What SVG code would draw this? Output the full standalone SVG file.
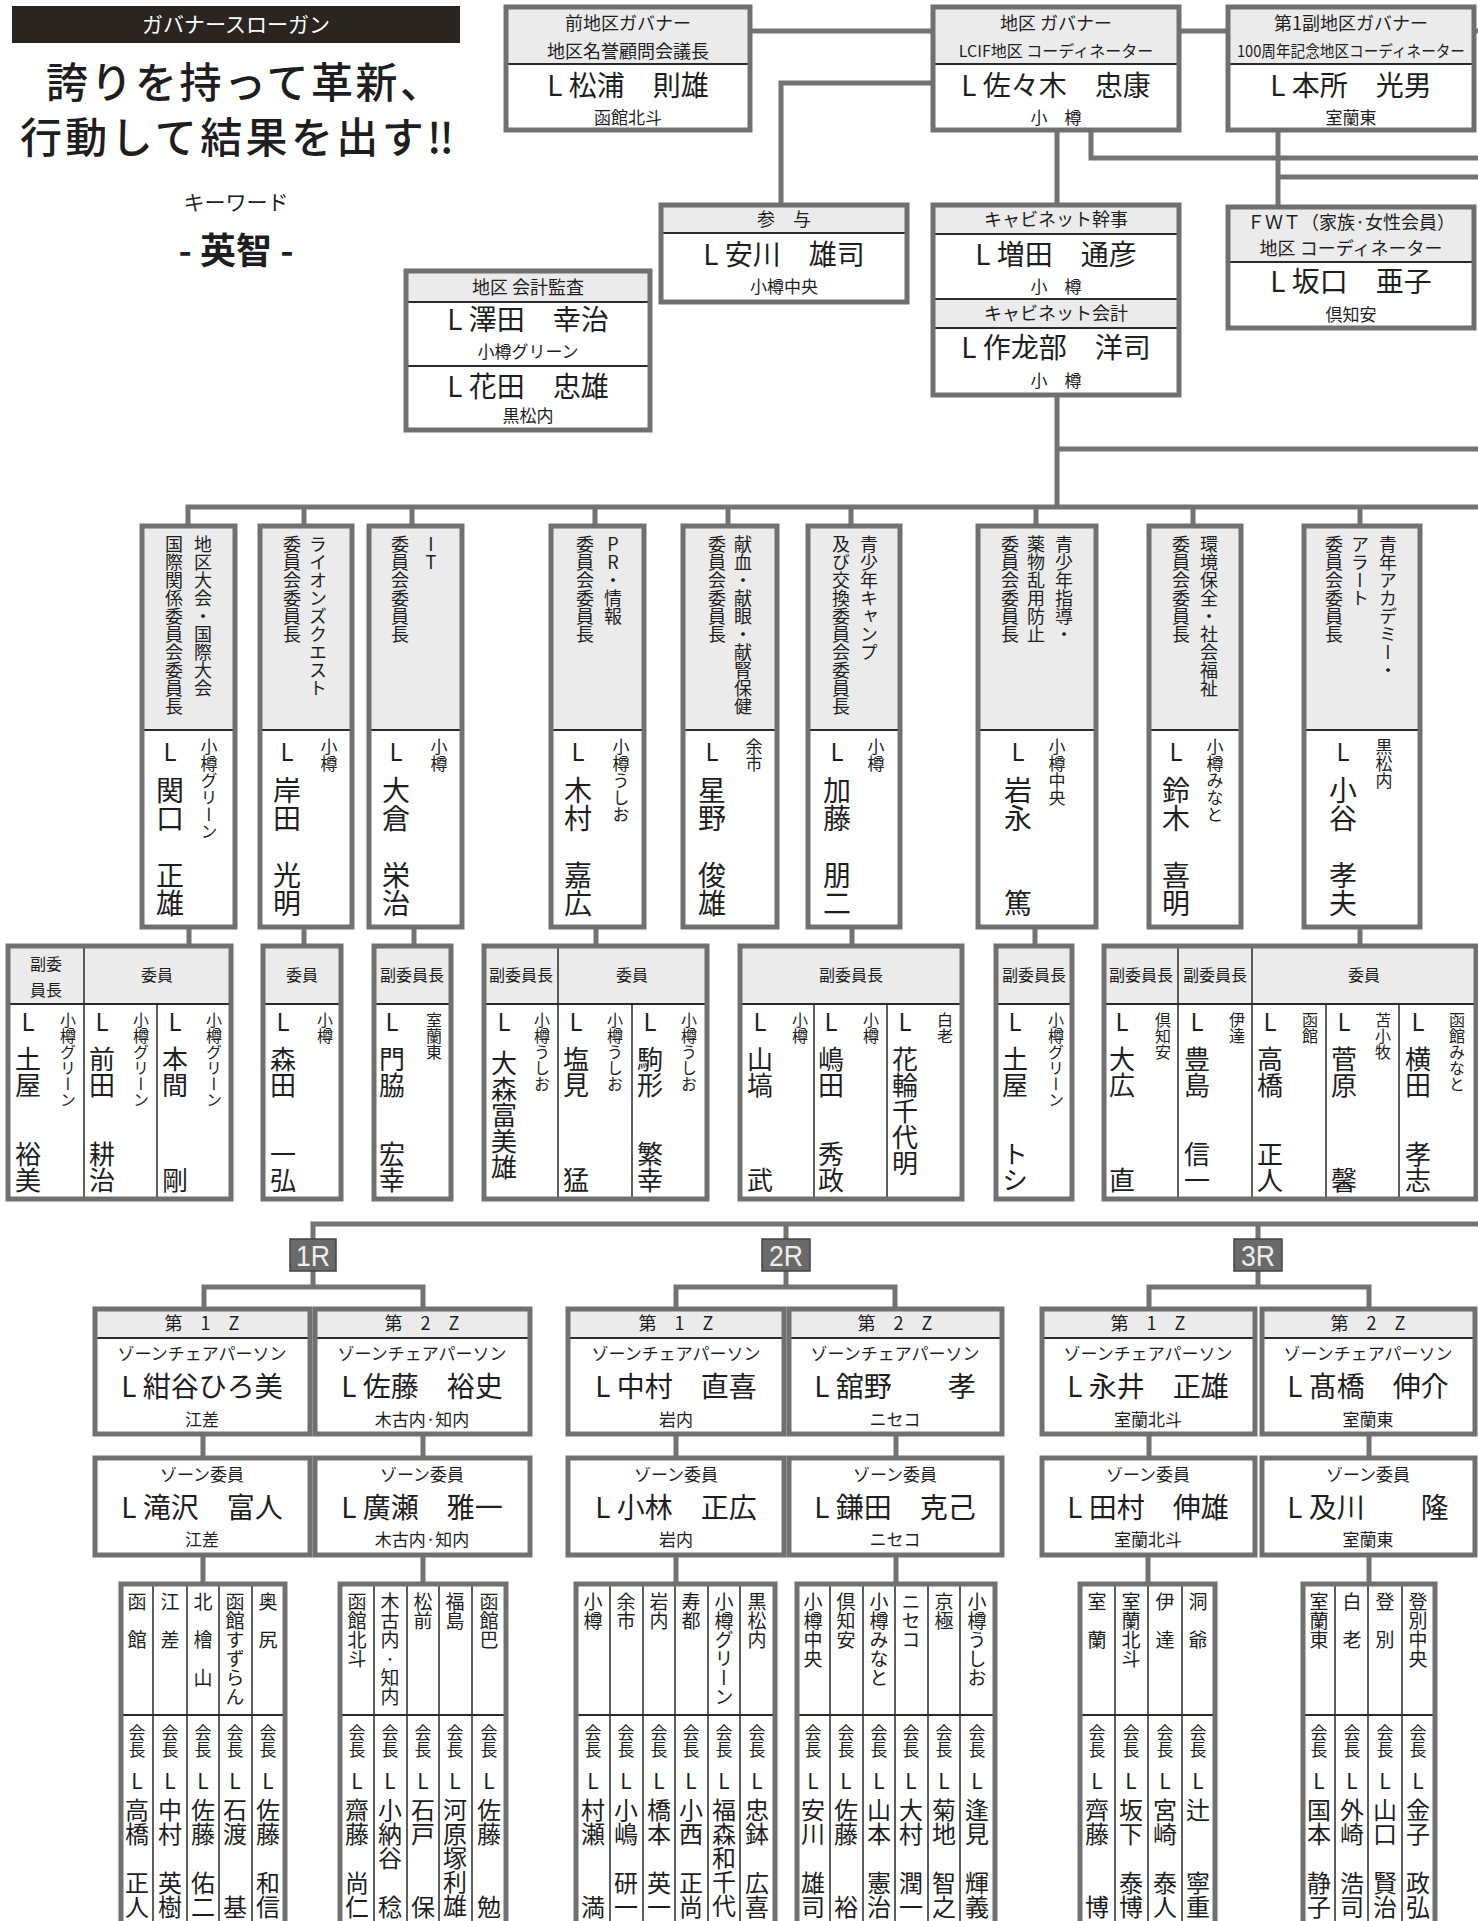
<svg xmlns="http://www.w3.org/2000/svg" width="1478" height="1921" viewBox="0 0 1478 1921">
<style>
.t{font-family:"Noto Sans CJK JP","Noto Sans",sans-serif;fill:#1e1e1e}
.v{writing-mode:vertical-rl;text-orientation:upright}
.m{text-anchor:middle}
.e{text-anchor:end}
.bg{fill:#fff}
.hd{fill:#ebebeb}
.bo{fill:none;stroke:#707070;stroke-width:5}
.sp{stroke:#2a2a2a;stroke-width:2}
.dv{stroke:#2a2a2a;stroke-width:1.5}
.ln{fill:none;stroke:#737373;stroke-width:5}
.rl{fill:#6a6a6a;stroke:#444;stroke-width:1.5}
.rt{font-family:"Liberation Sans",sans-serif;fill:#eee;font-size:30px;text-anchor:middle}
</style>
<rect x="0" y="0" width="1478" height="1921" fill="#fff"/>

<g id="connectors">
<path class="ln" d="M750,31H933M1179,31H1228M1472,31H1480"/>
<path class="ln" d="M933,83H781V205"/>
<path class="ln" d="M1057,130V205M1091,130V158H1480"/>
<path class="ln" d="M1278,130V207M1278,177H1480"/>
<path class="ln" d="M1057,395V507M1057,449H1480"/>
<path class="ln" d="M188,526V507H1480M304,507V526M412,507V526M595,507V526M728,507V526M851,507V526M1036,507V526M1193,507V526M1360,507V526"/>
<path class="ln" d="M189,927V946M304,927V946M414,927V946M596,927V946M852,927V946M1035,927V946M1360,927V946"/>
<path class="ln" d="M313,1239V1224H1480M786,1224V1239M1258,1224V1239"/>
<path class="ln" d="M313,1271V1287M204,1309V1287H423V1309"/>
<path class="ln" d="M786,1271V1287M676,1309V1287H895V1309"/>
<path class="ln" d="M1258,1271V1287M1149,1309V1287H1369V1309"/>
<path class="ln" d="M203,1434V1458M423,1434V1458M676,1434V1458M896,1434V1458M1149,1434V1458M1369,1434V1458"/>
<path class="ln" d="M203,1555V1584M423,1555V1584M676,1555V1584M896,1555V1584M1148,1555V1584M1369,1555V1584"/>
</g>

<g id="slogan">
<rect x="12" y="6" width="448" height="37" fill="#2b2522"/>
<text class="t m" x="236" y="32" font-size="21" style="fill:#fff">ガバナースローガン</text>
<text class="t" x="46" y="98" font-size="42" font-weight="500" textLength="396" lengthAdjust="spacing">誇りを持って革新、</text>
<text class="t" x="20" y="153" font-size="42" font-weight="500" textLength="434" lengthAdjust="spacing">行動して結果を出す‼</text>
<text class="t m" x="236" y="210" font-size="21">キーワード</text>
<text class="t m" x="236" y="264" font-size="36" font-weight="700">- 英智 -</text>
</g>

<g id="past-governor">
<rect class="bg" x="506" y="7" width="244" height="123"/>
<rect class="hd" x="506" y="7" width="244" height="57"/>
<line class="sp" x1="506" y1="64" x2="750" y2="64"/>
<rect class="bo" x="506" y="7" width="244" height="123"/>
<text class="t m" x="628" y="30" font-size="18">前地区ガバナー</text>
<text class="t m" x="628" y="58" font-size="18">地区名誉顧問会議長</text>
<text class="t m" x="628" y="96" font-size="28">L 松浦　則雄</text>
<text class="t m" x="628" y="124" font-size="17">函館北斗</text>
</g>

<g id="governor">
<rect class="bg" x="933" y="7" width="246" height="123"/>
<rect class="hd" x="933" y="7" width="246" height="57"/>
<line class="sp" x1="933" y1="64" x2="1179" y2="64"/>
<rect class="bo" x="933" y="7" width="246" height="123"/>
<text class="t m" x="1056" y="30" font-size="18">地区 ガバナー</text>
<text class="t m" x="1056" y="57" font-size="16">LCIF地区 コーディネーター</text>
<text class="t m" x="1056" y="96" font-size="28">L 佐々木　忠康</text>
<text class="t m" x="1056" y="124" font-size="17">小　樽</text>
</g>

<g id="first-vice-governor">
<rect class="bg" x="1228" y="7" width="246" height="123"/>
<rect class="hd" x="1228" y="7" width="246" height="57"/>
<line class="sp" x1="1228" y1="64" x2="1474" y2="64"/>
<rect class="bo" x="1228" y="7" width="246" height="123"/>
<text class="t m" x="1351" y="30" font-size="18">第1副地区ガバナー</text>
<text class="t m" x="1351" y="57" font-size="16" textLength="228" lengthAdjust="spacingAndGlyphs">100周年記念地区コーディネーター</text>
<text class="t m" x="1351" y="96" font-size="28">L 本所　光男</text>
<text class="t m" x="1351" y="124" font-size="17">室蘭東</text>
</g>

<g id="advisor">
<rect class="bg" x="661" y="205" width="246" height="97"/>
<rect class="hd" x="661" y="205" width="246" height="28"/>
<line class="sp" x1="661" y1="233" x2="907" y2="233"/>
<rect class="bo" x="661" y="205" width="246" height="97"/>
<text class="t m" x="784" y="226" font-size="18">参　与</text>
<text class="t m" x="784" y="265" font-size="28">L 安川　雄司</text>
<text class="t m" x="784" y="293" font-size="17">小樽中央</text>
</g>

<g id="cabinet">
<rect class="bg" x="933" y="205" width="246" height="190"/>
<rect class="hd" x="933" y="205" width="246" height="29"/>
<rect class="hd" x="933" y="299" width="246" height="29"/>
<line class="sp" x1="933" y1="234" x2="1179" y2="234"/>
<line class="sp" x1="933" y1="299" x2="1179" y2="299"/>
<line class="sp" x1="933" y1="328" x2="1179" y2="328"/>
<rect class="bo" x="933" y="205" width="246" height="190"/>
<text class="t m" x="1056" y="226" font-size="18">キャビネット幹事</text>
<text class="t m" x="1056" y="265" font-size="28">L 増田　通彦</text>
<text class="t m" x="1056" y="293" font-size="17">小　樽</text>
<text class="t m" x="1056" y="320" font-size="18">キャビネット会計</text>
<text class="t m" x="1056" y="358" font-size="28">L 作龙部　洋司</text>
<text class="t m" x="1056" y="387" font-size="17">小　樽</text>
</g>

<g id="fwt">
<rect class="bg" x="1228" y="207" width="246" height="121"/>
<rect class="hd" x="1228" y="207" width="246" height="55"/>
<line class="sp" x1="1228" y1="262" x2="1474" y2="262"/>
<rect class="bo" x="1228" y="207" width="246" height="121"/>
<text class="t m" x="1351" y="229" font-size="18">ＦＷＴ（家族·女性会員）</text>
<text class="t m" x="1351" y="255" font-size="18">地区 コーディネーター</text>
<text class="t m" x="1351" y="292" font-size="28">L 坂口　亜子</text>
<text class="t m" x="1351" y="321" font-size="17">倶知安</text>
</g>

<g id="auditors">
<rect class="bg" x="406" y="271" width="244" height="159"/>
<rect class="hd" x="406" y="271" width="244" height="31"/>
<line class="sp" x1="406" y1="302" x2="650" y2="302"/>
<line class="sp" x1="406" y1="366" x2="650" y2="366"/>
<rect class="bo" x="406" y="271" width="244" height="159"/>
<text class="t m" x="528" y="294" font-size="18">地区 会計監査</text>
<text class="t m" x="528" y="330" font-size="28">L 澤田　幸治</text>
<text class="t m" x="528" y="358" font-size="17">小樽グリーン</text>
<text class="t m" x="528" y="397" font-size="28">L 花田　忠雄</text>
<text class="t m" x="528" y="422" font-size="17">黒松内</text>
</g>

<!-- committee chairs -->
<g id="c1">
<rect class="bg" x="142" y="526" width="93" height="401"/>
<rect class="hd" x="142" y="526" width="93" height="204"/>
<line class="sp" x1="142" y1="730" x2="235" y2="730"/>
<rect class="bo" x="142" y="526" width="93" height="401"/>
<text class="t v" x="203" y="535" font-size="18">地区大会・国際大会</text>
<text class="t v" x="174" y="535" font-size="18">国際関係委員会委員長</text>
<text class="t v" x="170" y="740" font-size="24">L</text>
<text class="t v" x="170" y="776" font-size="28">関口</text>
<text class="t v e" x="170" y="917" font-size="28">正雄</text>
<text class="t v" x="209" y="738" font-size="17">小樽グリーン</text>
</g>
<g id="c2">
<rect class="bg" x="260" y="526" width="92" height="401"/>
<rect class="hd" x="260" y="526" width="92" height="204"/>
<line class="sp" x1="260" y1="730" x2="352" y2="730"/>
<rect class="bo" x="260" y="526" width="92" height="401"/>
<text class="t v" x="318" y="535" font-size="18">ライオンズクエスト</text>
<text class="t v" x="292" y="535" font-size="18">委員会委員長</text>
<text class="t v" x="287" y="740" font-size="24">L</text>
<text class="t v" x="287" y="776" font-size="28">岸田</text>
<text class="t v e" x="287" y="917" font-size="28">光明</text>
<text class="t v" x="329" y="738" font-size="17">小樽</text>
</g>
<g id="c3">
<rect class="bg" x="369" y="526" width="93" height="401"/>
<rect class="hd" x="369" y="526" width="93" height="204"/>
<line class="sp" x1="369" y1="730" x2="462" y2="730"/>
<rect class="bo" x="369" y="526" width="93" height="401"/>
<text class="t v" x="431" y="535" font-size="18">IT</text>
<text class="t v" x="400" y="535" font-size="18">委員会委員長</text>
<text class="t v" x="396" y="740" font-size="24">L</text>
<text class="t v" x="396" y="776" font-size="28">大倉</text>
<text class="t v e" x="396" y="917" font-size="28">栄治</text>
<text class="t v" x="439" y="738" font-size="17">小樽</text>
</g>
<g id="c4">
<rect class="bg" x="551" y="526" width="93" height="401"/>
<rect class="hd" x="551" y="526" width="93" height="204"/>
<line class="sp" x1="551" y1="730" x2="644" y2="730"/>
<rect class="bo" x="551" y="526" width="93" height="401"/>
<text class="t v" x="613" y="535" font-size="18">PR・情報</text>
<text class="t v" x="585" y="535" font-size="18">委員会委員長</text>
<text class="t v" x="578" y="740" font-size="24">L</text>
<text class="t v" x="578" y="776" font-size="28">木村</text>
<text class="t v e" x="578" y="917" font-size="28">嘉広</text>
<text class="t v" x="621" y="738" font-size="17">小樽うしお</text>
</g>
<g id="c5">
<rect class="bg" x="683" y="526" width="94" height="401"/>
<rect class="hd" x="683" y="526" width="94" height="204"/>
<line class="sp" x1="683" y1="730" x2="777" y2="730"/>
<rect class="bo" x="683" y="526" width="94" height="401"/>
<text class="t v" x="743" y="535" font-size="18">献血・献眼・献腎保健</text>
<text class="t v" x="717" y="535" font-size="18">委員会委員長</text>
<text class="t v" x="712" y="740" font-size="24">L</text>
<text class="t v" x="712" y="776" font-size="28">星野</text>
<text class="t v e" x="712" y="917" font-size="28">俊雄</text>
<text class="t v" x="754" y="738" font-size="17">余市</text>
</g>
<g id="c6">
<rect class="bg" x="808" y="526" width="92" height="401"/>
<rect class="hd" x="808" y="526" width="92" height="204"/>
<line class="sp" x1="808" y1="730" x2="900" y2="730"/>
<rect class="bo" x="808" y="526" width="92" height="401"/>
<text class="t v" x="869" y="535" font-size="18">青少年キャンプ</text>
<text class="t v" x="841" y="535" font-size="18">及び交換委員会委員長</text>
<text class="t v" x="837" y="740" font-size="24">L</text>
<text class="t v" x="837" y="776" font-size="28">加藤</text>
<text class="t v e" x="837" y="917" font-size="28">朋二</text>
<text class="t v" x="876" y="738" font-size="17">小樽</text>
</g>
<g id="c7">
<rect class="bg" x="978" y="526" width="118" height="401"/>
<rect class="hd" x="978" y="526" width="118" height="204"/>
<line class="sp" x1="978" y1="730" x2="1096" y2="730"/>
<rect class="bo" x="978" y="526" width="118" height="401"/>
<text class="t v" x="1064" y="535" font-size="18">青少年指導・</text>
<text class="t v" x="1036" y="535" font-size="18">薬物乱用防止</text>
<text class="t v" x="1010" y="535" font-size="18">委員会委員長</text>
<text class="t v" x="1018" y="740" font-size="24">L</text>
<text class="t v" x="1018" y="776" font-size="28">岩永</text>
<text class="t v e" x="1018" y="917" font-size="28">篤</text>
<text class="t v" x="1057" y="738" font-size="17">小樽中央</text>
</g>
<g id="c8">
<rect class="bg" x="1149" y="526" width="92" height="401"/>
<rect class="hd" x="1149" y="526" width="92" height="204"/>
<line class="sp" x1="1149" y1="730" x2="1241" y2="730"/>
<rect class="bo" x="1149" y="526" width="92" height="401"/>
<text class="t v" x="1209" y="535" font-size="18">環境保全・社会福祉</text>
<text class="t v" x="1181" y="535" font-size="18">委員会委員長</text>
<text class="t v" x="1176" y="740" font-size="24">L</text>
<text class="t v" x="1176" y="776" font-size="28">鈴木</text>
<text class="t v e" x="1176" y="917" font-size="28">喜明</text>
<text class="t v" x="1215" y="738" font-size="17">小樽みなと</text>
</g>
<g id="c9">
<rect class="bg" x="1304" y="526" width="116" height="401"/>
<rect class="hd" x="1304" y="526" width="116" height="204"/>
<line class="sp" x1="1304" y1="730" x2="1420" y2="730"/>
<rect class="bo" x="1304" y="526" width="116" height="401"/>
<text class="t v" x="1388" y="535" font-size="18">青年アカデミー・</text>
<text class="t v" x="1360" y="535" font-size="18">アラート</text>
<text class="t v" x="1334" y="535" font-size="18">委員会委員長</text>
<text class="t v" x="1343" y="740" font-size="24">L</text>
<text class="t v" x="1343" y="776" font-size="28">小谷</text>
<text class="t v e" x="1343" y="917" font-size="28">孝夫</text>
<text class="t v" x="1384" y="738" font-size="17">黒松内</text>
</g>

<!-- sub committees -->
<g id="s1">
<rect class="bg" x="8" y="946" width="223" height="253"/>
<rect class="hd" x="8" y="946" width="223" height="58"/>
<line class="sp" x1="8" y1="1004" x2="231" y2="1004"/>
<line class="dv" x1="84" y1="946" x2="84" y2="1199"/>
<line class="dv" x1="157" y1="1004" x2="157" y2="1199"/>
<rect class="bo" x="8" y="946" width="223" height="253"/>
<text class="t m" x="46" y="970" font-size="16">副委</text>
<text class="t m" x="46" y="996" font-size="16">員長</text>
<text class="t m" x="157" y="981" font-size="16">委員</text>
<text class="t v" x="28" y="1010" font-size="24">L</text>
<text class="t v" x="28" y="1046" font-size="26">土屋</text>
<text class="t v e" x="28" y="1193" font-size="26">裕美</text>
<text class="t v" x="68" y="1012" font-size="16">小樽グリーン</text>
<text class="t v" x="102" y="1010" font-size="24">L</text>
<text class="t v" x="102" y="1046" font-size="26">前田</text>
<text class="t v e" x="102" y="1193" font-size="26">耕治</text>
<text class="t v" x="141" y="1012" font-size="16">小樽グリーン</text>
<text class="t v" x="175" y="1010" font-size="24">L</text>
<text class="t v" x="175" y="1046" font-size="26">本間</text>
<text class="t v e" x="175" y="1193" font-size="26">剛</text>
<text class="t v" x="214" y="1012" font-size="16">小樽グリーン</text>
</g>
<g id="s2">
<rect class="bg" x="263" y="946" width="78" height="253"/>
<rect class="hd" x="263" y="946" width="78" height="58"/>
<line class="sp" x1="263" y1="1004" x2="341" y2="1004"/>
<rect class="bo" x="263" y="946" width="78" height="253"/>
<text class="t m" x="302" y="981" font-size="16">委員</text>
<text class="t v" x="283" y="1010" font-size="24">L</text>
<text class="t v" x="283" y="1046" font-size="26">森田</text>
<text class="t v e" x="283" y="1193" font-size="26">一弘</text>
<text class="t v" x="325" y="1012" font-size="16">小樽</text>
</g>
<g id="s3">
<rect class="bg" x="374" y="946" width="77" height="253"/>
<rect class="hd" x="374" y="946" width="77" height="58"/>
<line class="sp" x1="374" y1="1004" x2="451" y2="1004"/>
<rect class="bo" x="374" y="946" width="77" height="253"/>
<text class="t m" x="412" y="981" font-size="16">副委員長</text>
<text class="t v" x="392" y="1010" font-size="24">L</text>
<text class="t v" x="392" y="1046" font-size="26">門脇</text>
<text class="t v e" x="392" y="1193" font-size="26">宏幸</text>
<text class="t v" x="434" y="1012" font-size="16">室蘭東</text>
</g>
<g id="s4">
<rect class="bg" x="484" y="946" width="223" height="253"/>
<rect class="hd" x="484" y="946" width="223" height="58"/>
<line class="sp" x1="484" y1="1004" x2="707" y2="1004"/>
<line class="dv" x1="558" y1="946" x2="558" y2="1199"/>
<line class="dv" x1="632" y1="1004" x2="632" y2="1199"/>
<rect class="bo" x="484" y="946" width="223" height="253"/>
<text class="t m" x="521" y="981" font-size="16">副委員長</text>
<text class="t m" x="632" y="981" font-size="16">委員</text>
<text class="t v" x="504" y="1010" font-size="24">L</text>
<text class="t v" x="504" y="1050" font-size="26">大森富美雄</text>
<text class="t v" x="542" y="1012" font-size="16">小樽うしお</text>
<text class="t v" x="576" y="1010" font-size="24">L</text>
<text class="t v" x="576" y="1046" font-size="26">塩見</text>
<text class="t v e" x="576" y="1193" font-size="26">猛</text>
<text class="t v" x="615" y="1012" font-size="16">小樽うしお</text>
<text class="t v" x="650" y="1010" font-size="24">L</text>
<text class="t v" x="650" y="1046" font-size="26">駒形</text>
<text class="t v e" x="650" y="1193" font-size="26">繁幸</text>
<text class="t v" x="689" y="1012" font-size="16">小樽うしお</text>
</g>
<g id="s5">
<rect class="bg" x="740" y="946" width="222" height="253"/>
<rect class="hd" x="740" y="946" width="222" height="58"/>
<line class="sp" x1="740" y1="1004" x2="962" y2="1004"/>
<line class="dv" x1="814" y1="1004" x2="814" y2="1199"/>
<line class="dv" x1="887" y1="1004" x2="887" y2="1199"/>
<rect class="bo" x="740" y="946" width="222" height="253"/>
<text class="t m" x="851" y="981" font-size="16">副委員長</text>
<text class="t v" x="760" y="1010" font-size="24">L</text>
<text class="t v" x="760" y="1046" font-size="26">山塙</text>
<text class="t v e" x="760" y="1193" font-size="26">武</text>
<text class="t v" x="800" y="1012" font-size="16">小樽</text>
<text class="t v" x="831" y="1010" font-size="24">L</text>
<text class="t v" x="831" y="1046" font-size="26">嶋田</text>
<text class="t v e" x="831" y="1193" font-size="26">秀政</text>
<text class="t v" x="871" y="1012" font-size="16">小樽</text>
<text class="t v" x="905" y="1010" font-size="24">L</text>
<text class="t v" x="905" y="1046" font-size="26">花輪千代明</text>
<text class="t v" x="945" y="1012" font-size="16">白老</text>
</g>
<g id="s6">
<rect class="bg" x="996" y="946" width="76" height="253"/>
<rect class="hd" x="996" y="946" width="76" height="58"/>
<line class="sp" x1="996" y1="1004" x2="1072" y2="1004"/>
<rect class="bo" x="996" y="946" width="76" height="253"/>
<text class="t m" x="1034" y="981" font-size="16">副委員長</text>
<text class="t v" x="1015" y="1010" font-size="24">L</text>
<text class="t v" x="1015" y="1046" font-size="26">土屋</text>
<text class="t v e" x="1015" y="1193" font-size="26">トシ</text>
<text class="t v" x="1056" y="1012" font-size="16">小樽グリーン</text>
</g>
<g id="s7">
<rect class="bg" x="1104" y="946" width="372" height="253"/>
<rect class="hd" x="1104" y="946" width="372" height="58"/>
<line class="sp" x1="1104" y1="1004" x2="1476" y2="1004"/>
<line class="dv" x1="1178" y1="946" x2="1178" y2="1199"/>
<line class="dv" x1="1252" y1="946" x2="1252" y2="1199"/>
<line class="dv" x1="1326" y1="1004" x2="1326" y2="1199"/>
<line class="dv" x1="1399" y1="1004" x2="1399" y2="1199"/>
<rect class="bo" x="1104" y="946" width="372" height="253"/>
<text class="t m" x="1141" y="981" font-size="16">副委員長</text>
<text class="t m" x="1215" y="981" font-size="16">副委員長</text>
<text class="t m" x="1364" y="981" font-size="16">委員</text>
<text class="t v" x="1122" y="1010" font-size="24">L</text>
<text class="t v" x="1122" y="1046" font-size="26">大広</text>
<text class="t v e" x="1122" y="1193" font-size="26">直</text>
<text class="t v" x="1163" y="1012" font-size="16">倶知安</text>
<text class="t v" x="1197" y="1010" font-size="24">L</text>
<text class="t v" x="1197" y="1046" font-size="26">豊島</text>
<text class="t v e" x="1197" y="1193" font-size="26">信一</text>
<text class="t v" x="1237" y="1012" font-size="16">伊達</text>
<text class="t v" x="1270" y="1010" font-size="24">L</text>
<text class="t v" x="1270" y="1046" font-size="26">高橋</text>
<text class="t v e" x="1270" y="1193" font-size="26">正人</text>
<text class="t v" x="1310" y="1012" font-size="16">函館</text>
<text class="t v" x="1344" y="1010" font-size="24">L</text>
<text class="t v" x="1344" y="1046" font-size="26">菅原</text>
<text class="t v e" x="1344" y="1193" font-size="26">馨</text>
<text class="t v" x="1383" y="1012" font-size="16">苫小牧</text>
<text class="t v" x="1418" y="1010" font-size="24">L</text>
<text class="t v" x="1418" y="1046" font-size="26">横田</text>
<text class="t v e" x="1418" y="1193" font-size="26">孝志</text>
<text class="t v" x="1457" y="1012" font-size="16">函館みなと</text>
</g>

<!-- regions -->
<g id="r1"><rect class="rl" x="290" y="1239" width="46" height="32"/><text class="rt" x="313" y="1266" textLength="34" lengthAdjust="spacingAndGlyphs">1R</text></g>
<g id="r2"><rect class="rl" x="762" y="1239" width="48" height="32"/><text class="rt" x="786" y="1266" textLength="34" lengthAdjust="spacingAndGlyphs">2R</text></g>
<g id="r3"><rect class="rl" x="1234" y="1239" width="48" height="32"/><text class="rt" x="1258" y="1266" textLength="34" lengthAdjust="spacingAndGlyphs">3R</text></g>

<!-- zone chairpersons -->
<g id="z1">
<rect class="bg" x="95" y="1309" width="215" height="125"/>
<rect class="hd" x="95" y="1309" width="215" height="29"/>
<line class="sp" x1="95" y1="1338" x2="310" y2="1338"/>
<rect class="bo" x="95" y="1309" width="215" height="125"/>
<text class="t m" x="202" y="1330" font-size="18">第　1　Z</text>
<text class="t m" x="202" y="1360" font-size="17">ゾーンチェアパーソン</text>
<text class="t m" x="202" y="1397" font-size="28">L 紺谷ひろ美</text>
<text class="t m" x="202" y="1426" font-size="17">江差</text>
</g>
<g id="z2">
<rect class="bg" x="315" y="1309" width="215" height="125"/>
<rect class="hd" x="315" y="1309" width="215" height="29"/>
<line class="sp" x1="315" y1="1338" x2="530" y2="1338"/>
<rect class="bo" x="315" y="1309" width="215" height="125"/>
<text class="t m" x="422" y="1330" font-size="18">第　2　Z</text>
<text class="t m" x="422" y="1360" font-size="17">ゾーンチェアパーソン</text>
<text class="t m" x="422" y="1397" font-size="28">L 佐藤　裕史</text>
<text class="t m" x="422" y="1426" font-size="17">木古内·知内</text>
</g>
<g id="z3">
<rect class="bg" x="568" y="1309" width="216" height="125"/>
<rect class="hd" x="568" y="1309" width="216" height="29"/>
<line class="sp" x1="568" y1="1338" x2="784" y2="1338"/>
<rect class="bo" x="568" y="1309" width="216" height="125"/>
<text class="t m" x="676" y="1330" font-size="18">第　1　Z</text>
<text class="t m" x="676" y="1360" font-size="17">ゾーンチェアパーソン</text>
<text class="t m" x="676" y="1397" font-size="28">L 中村　直喜</text>
<text class="t m" x="676" y="1426" font-size="17">岩内</text>
</g>
<g id="z4">
<rect class="bg" x="789" y="1309" width="213" height="125"/>
<rect class="hd" x="789" y="1309" width="213" height="29"/>
<line class="sp" x1="789" y1="1338" x2="1002" y2="1338"/>
<rect class="bo" x="789" y="1309" width="213" height="125"/>
<text class="t m" x="895" y="1330" font-size="18">第　2　Z</text>
<text class="t m" x="895" y="1360" font-size="17">ゾーンチェアパーソン</text>
<text class="t m" x="895" y="1397" font-size="28">L 舘野　　孝</text>
<text class="t m" x="895" y="1426" font-size="17">ニセコ</text>
</g>
<g id="z5">
<rect class="bg" x="1042" y="1309" width="213" height="125"/>
<rect class="hd" x="1042" y="1309" width="213" height="29"/>
<line class="sp" x1="1042" y1="1338" x2="1255" y2="1338"/>
<rect class="bo" x="1042" y="1309" width="213" height="125"/>
<text class="t m" x="1148" y="1330" font-size="18">第　1　Z</text>
<text class="t m" x="1148" y="1360" font-size="17">ゾーンチェアパーソン</text>
<text class="t m" x="1148" y="1397" font-size="28">L 永井　正雄</text>
<text class="t m" x="1148" y="1426" font-size="17">室蘭北斗</text>
</g>
<g id="z6">
<rect class="bg" x="1262" y="1309" width="213" height="125"/>
<rect class="hd" x="1262" y="1309" width="213" height="29"/>
<line class="sp" x1="1262" y1="1338" x2="1475" y2="1338"/>
<rect class="bo" x="1262" y="1309" width="213" height="125"/>
<text class="t m" x="1368" y="1330" font-size="18">第　2　Z</text>
<text class="t m" x="1368" y="1360" font-size="17">ゾーンチェアパーソン</text>
<text class="t m" x="1368" y="1397" font-size="28">L 髙橋　伸介</text>
<text class="t m" x="1368" y="1426" font-size="17">室蘭東</text>
</g>

<!-- zone members -->
<g id="zm1"><rect class="bg" x="95" y="1458" width="215" height="97"/><rect class="bo" x="95" y="1458" width="215" height="97"/>
<text class="t m" x="202" y="1481" font-size="17">ゾーン委員</text><text class="t m" x="202" y="1518" font-size="28">L 滝沢　富人</text><text class="t m" x="202" y="1546" font-size="17">江差</text></g>
<g id="zm2"><rect class="bg" x="315" y="1458" width="215" height="97"/><rect class="bo" x="315" y="1458" width="215" height="97"/>
<text class="t m" x="422" y="1481" font-size="17">ゾーン委員</text><text class="t m" x="422" y="1518" font-size="28">L 廣瀬　雅一</text><text class="t m" x="422" y="1546" font-size="17">木古内·知内</text></g>
<g id="zm3"><rect class="bg" x="568" y="1458" width="216" height="97"/><rect class="bo" x="568" y="1458" width="216" height="97"/>
<text class="t m" x="676" y="1481" font-size="17">ゾーン委員</text><text class="t m" x="676" y="1518" font-size="28">L 小林　正広</text><text class="t m" x="676" y="1546" font-size="17">岩内</text></g>
<g id="zm4"><rect class="bg" x="789" y="1458" width="213" height="97"/><rect class="bo" x="789" y="1458" width="213" height="97"/>
<text class="t m" x="895" y="1481" font-size="17">ゾーン委員</text><text class="t m" x="895" y="1518" font-size="28">L 鎌田　克己</text><text class="t m" x="895" y="1546" font-size="17">ニセコ</text></g>
<g id="zm5"><rect class="bg" x="1042" y="1458" width="213" height="97"/><rect class="bo" x="1042" y="1458" width="213" height="97"/>
<text class="t m" x="1148" y="1481" font-size="17">ゾーン委員</text><text class="t m" x="1148" y="1518" font-size="28">L 田村　伸雄</text><text class="t m" x="1148" y="1546" font-size="17">室蘭北斗</text></g>
<g id="zm6"><rect class="bg" x="1262" y="1458" width="213" height="97"/><rect class="bo" x="1262" y="1458" width="213" height="97"/>
<text class="t m" x="1368" y="1481" font-size="17">ゾーン委員</text><text class="t m" x="1368" y="1518" font-size="28">L 及川　　隆</text><text class="t m" x="1368" y="1546" font-size="17">室蘭東</text></g>

<!-- clubs -->
<g id="clubs-1r1z">
<rect class="bg" x="121" y="1584" width="164" height="350"/>
<line class="sp" x1="121" y1="1715" x2="285" y2="1715"/>
<path class="dv" d="M153,1584V1935M187,1584V1935M219,1584V1935M252,1584V1935"/>
<rect class="bo" x="121" y="1584" width="164" height="350"/>
<text class="t v" x="137" y="1592" font-size="19">函　館</text>
<text class="t v" x="170" y="1592" font-size="19">江　差</text>
<text class="t v" x="203" y="1592" font-size="19">北　檜　山</text>
<text class="t v" x="235" y="1592" font-size="19">函館すずらん</text>
<text class="t v" x="268" y="1592" font-size="19">奥　尻</text>
<text class="t v" x="137" y="1724" font-size="17">会長</text><text class="t v" x="137" y="1771" font-size="21">L</text><text class="t v" x="137" y="1798" font-size="24">高橋</text><text class="t v e" x="137" y="1919" font-size="24">正人</text>
<text class="t v" x="170" y="1724" font-size="17">会長</text><text class="t v" x="170" y="1771" font-size="21">L</text><text class="t v" x="170" y="1798" font-size="24">中村</text><text class="t v e" x="170" y="1919" font-size="24">英樹</text>
<text class="t v" x="203" y="1724" font-size="17">会長</text><text class="t v" x="203" y="1771" font-size="21">L</text><text class="t v" x="203" y="1798" font-size="24">佐藤</text><text class="t v e" x="203" y="1919" font-size="24">佑二</text>
<text class="t v" x="235" y="1724" font-size="17">会長</text><text class="t v" x="235" y="1771" font-size="21">L</text><text class="t v" x="235" y="1798" font-size="24">石渡</text><text class="t v e" x="235" y="1919" font-size="24">基</text>
<text class="t v" x="268" y="1724" font-size="17">会長</text><text class="t v" x="268" y="1771" font-size="21">L</text><text class="t v" x="268" y="1798" font-size="24">佐藤</text><text class="t v e" x="268" y="1919" font-size="24">和信</text>
</g>
<g id="clubs-1r2z">
<rect class="bg" x="340" y="1584" width="166" height="350"/>
<line class="sp" x1="340" y1="1715" x2="506" y2="1715"/>
<path class="dv" d="M374,1584V1935M407,1584V1935M439,1584V1935M472,1584V1935"/>
<rect class="bo" x="340" y="1584" width="166" height="350"/>
<text class="t v" x="357" y="1592" font-size="19">函館北斗</text>
<text class="t v" x="390" y="1592" font-size="19">木古内·知内</text>
<text class="t v" x="423" y="1592" font-size="19">松前</text>
<text class="t v" x="455" y="1592" font-size="19">福島</text>
<text class="t v" x="489" y="1592" font-size="19">函館巴</text>
<text class="t v" x="357" y="1724" font-size="17">会長</text><text class="t v" x="357" y="1771" font-size="21">L</text><text class="t v" x="357" y="1798" font-size="24">齋藤</text><text class="t v e" x="357" y="1919" font-size="24">尚仁</text>
<text class="t v" x="390" y="1724" font-size="17">会長</text><text class="t v" x="390" y="1771" font-size="21">L</text><text class="t v" x="390" y="1798" font-size="24">小納谷</text><text class="t v e" x="390" y="1919" font-size="24">稔</text>
<text class="t v" x="423" y="1724" font-size="17">会長</text><text class="t v" x="423" y="1771" font-size="21">L</text><text class="t v" x="423" y="1798" font-size="24">石戸</text><text class="t v e" x="423" y="1919" font-size="24">保</text>
<text class="t v" x="455" y="1724" font-size="17">会長</text><text class="t v" x="455" y="1771" font-size="21">L</text><text class="t v" x="455" y="1798" font-size="24">河原塚利雄</text>
<text class="t v" x="489" y="1724" font-size="17">会長</text><text class="t v" x="489" y="1771" font-size="21">L</text><text class="t v" x="489" y="1798" font-size="24">佐藤</text><text class="t v e" x="489" y="1919" font-size="24">勉</text>
</g>
<g id="clubs-2r1z">
<rect class="bg" x="576" y="1584" width="199" height="350"/>
<line class="sp" x1="576" y1="1715" x2="775" y2="1715"/>
<path class="dv" d="M610,1584V1935M643,1584V1935M675,1584V1935M708,1584V1935M740,1584V1935"/>
<rect class="bo" x="576" y="1584" width="199" height="350"/>
<text class="t v" x="593" y="1592" font-size="19">小樽</text>
<text class="t v" x="626" y="1592" font-size="19">余市</text>
<text class="t v" x="659" y="1592" font-size="19">岩内</text>
<text class="t v" x="691" y="1592" font-size="19">寿都</text>
<text class="t v" x="724" y="1592" font-size="19">小樽グリーン</text>
<text class="t v" x="757" y="1592" font-size="19">黒松内</text>
<text class="t v" x="593" y="1724" font-size="17">会長</text><text class="t v" x="593" y="1771" font-size="21">L</text><text class="t v" x="593" y="1798" font-size="24">村瀬</text><text class="t v e" x="593" y="1919" font-size="24">満</text>
<text class="t v" x="626" y="1724" font-size="17">会長</text><text class="t v" x="626" y="1771" font-size="21">L</text><text class="t v" x="626" y="1798" font-size="24">小嶋</text><text class="t v e" x="626" y="1919" font-size="24">研一</text>
<text class="t v" x="659" y="1724" font-size="17">会長</text><text class="t v" x="659" y="1771" font-size="21">L</text><text class="t v" x="659" y="1798" font-size="24">橋本</text><text class="t v e" x="659" y="1919" font-size="24">英一</text>
<text class="t v" x="691" y="1724" font-size="17">会長</text><text class="t v" x="691" y="1771" font-size="21">L</text><text class="t v" x="691" y="1798" font-size="24">小西</text><text class="t v e" x="691" y="1919" font-size="24">正尚</text>
<text class="t v" x="724" y="1724" font-size="17">会長</text><text class="t v" x="724" y="1771" font-size="21">L</text><text class="t v" x="724" y="1798" font-size="24">福森和千代</text>
<text class="t v" x="757" y="1724" font-size="17">会長</text><text class="t v" x="757" y="1771" font-size="21">L</text><text class="t v" x="757" y="1798" font-size="24">忠鉢</text><text class="t v e" x="757" y="1919" font-size="24">広喜</text>
</g>
<g id="clubs-2r2z">
<rect class="bg" x="797" y="1584" width="198" height="350"/>
<line class="sp" x1="797" y1="1715" x2="995" y2="1715"/>
<path class="dv" d="M830,1584V1935M863,1584V1935M895,1584V1935M928,1584V1935M960,1584V1935"/>
<rect class="bo" x="797" y="1584" width="198" height="350"/>
<text class="t v" x="813" y="1592" font-size="19">小樽中央</text>
<text class="t v" x="846" y="1592" font-size="19">倶知安</text>
<text class="t v" x="879" y="1592" font-size="19">小樽みなと</text>
<text class="t v" x="911" y="1592" font-size="19">ニセコ</text>
<text class="t v" x="944" y="1592" font-size="19">京極</text>
<text class="t v" x="977" y="1592" font-size="19">小樽うしお</text>
<text class="t v" x="813" y="1724" font-size="17">会長</text><text class="t v" x="813" y="1771" font-size="21">L</text><text class="t v" x="813" y="1798" font-size="24">安川</text><text class="t v e" x="813" y="1919" font-size="24">雄司</text>
<text class="t v" x="846" y="1724" font-size="17">会長</text><text class="t v" x="846" y="1771" font-size="21">L</text><text class="t v" x="846" y="1798" font-size="24">佐藤</text><text class="t v e" x="846" y="1919" font-size="24">裕</text>
<text class="t v" x="879" y="1724" font-size="17">会長</text><text class="t v" x="879" y="1771" font-size="21">L</text><text class="t v" x="879" y="1798" font-size="24">山本</text><text class="t v e" x="879" y="1919" font-size="24">憲治</text>
<text class="t v" x="911" y="1724" font-size="17">会長</text><text class="t v" x="911" y="1771" font-size="21">L</text><text class="t v" x="911" y="1798" font-size="24">大村</text><text class="t v e" x="911" y="1919" font-size="24">潤一</text>
<text class="t v" x="944" y="1724" font-size="17">会長</text><text class="t v" x="944" y="1771" font-size="21">L</text><text class="t v" x="944" y="1798" font-size="24">菊地</text><text class="t v e" x="944" y="1919" font-size="24">智之</text>
<text class="t v" x="977" y="1724" font-size="17">会長</text><text class="t v" x="977" y="1771" font-size="21">L</text><text class="t v" x="977" y="1798" font-size="24">逢見</text><text class="t v e" x="977" y="1919" font-size="24">輝義</text>
</g>
<g id="clubs-3r1z">
<rect class="bg" x="1080" y="1584" width="135" height="350"/>
<line class="sp" x1="1080" y1="1715" x2="1215" y2="1715"/>
<path class="dv" d="M1115,1584V1935M1148,1584V1935M1182,1584V1935"/>
<rect class="bo" x="1080" y="1584" width="135" height="350"/>
<text class="t v" x="1097" y="1592" font-size="19">室　蘭</text>
<text class="t v" x="1131" y="1592" font-size="19">室蘭北斗</text>
<text class="t v" x="1165" y="1592" font-size="19">伊　達</text>
<text class="t v" x="1198" y="1592" font-size="19">洞　爺</text>
<text class="t v" x="1097" y="1724" font-size="17">会長</text><text class="t v" x="1097" y="1771" font-size="21">L</text><text class="t v" x="1097" y="1798" font-size="24">齊藤</text><text class="t v e" x="1097" y="1919" font-size="24">博</text>
<text class="t v" x="1131" y="1724" font-size="17">会長</text><text class="t v" x="1131" y="1771" font-size="21">L</text><text class="t v" x="1131" y="1798" font-size="24">坂下</text><text class="t v e" x="1131" y="1919" font-size="24">泰博</text>
<text class="t v" x="1165" y="1724" font-size="17">会長</text><text class="t v" x="1165" y="1771" font-size="21">L</text><text class="t v" x="1165" y="1798" font-size="24">宮崎</text><text class="t v e" x="1165" y="1919" font-size="24">泰人</text>
<text class="t v" x="1198" y="1724" font-size="17">会長</text><text class="t v" x="1198" y="1771" font-size="21">L</text><text class="t v" x="1198" y="1798" font-size="24">辻</text><text class="t v e" x="1198" y="1919" font-size="24">寧重</text>
</g>
<g id="clubs-3r2z">
<rect class="bg" x="1303" y="1584" width="132" height="350"/>
<line class="sp" x1="1303" y1="1715" x2="1435" y2="1715"/>
<path class="dv" d="M1335,1584V1935M1368,1584V1935M1402,1584V1935"/>
<rect class="bo" x="1303" y="1584" width="132" height="350"/>
<text class="t v" x="1319" y="1592" font-size="19">室蘭東</text>
<text class="t v" x="1352" y="1592" font-size="19">白　老</text>
<text class="t v" x="1385" y="1592" font-size="19">登　別</text>
<text class="t v" x="1418" y="1592" font-size="19">登別中央</text>
<text class="t v" x="1319" y="1724" font-size="17">会長</text><text class="t v" x="1319" y="1771" font-size="21">L</text><text class="t v" x="1319" y="1798" font-size="24">国本</text><text class="t v e" x="1319" y="1919" font-size="24">静子</text>
<text class="t v" x="1352" y="1724" font-size="17">会長</text><text class="t v" x="1352" y="1771" font-size="21">L</text><text class="t v" x="1352" y="1798" font-size="24">外崎</text><text class="t v e" x="1352" y="1919" font-size="24">浩司</text>
<text class="t v" x="1385" y="1724" font-size="17">会長</text><text class="t v" x="1385" y="1771" font-size="21">L</text><text class="t v" x="1385" y="1798" font-size="24">山口</text><text class="t v e" x="1385" y="1919" font-size="24">賢治</text>
<text class="t v" x="1418" y="1724" font-size="17">会長</text><text class="t v" x="1418" y="1771" font-size="21">L</text><text class="t v" x="1418" y="1798" font-size="24">金子</text><text class="t v e" x="1418" y="1919" font-size="24">政弘</text>
</g>
</svg>
